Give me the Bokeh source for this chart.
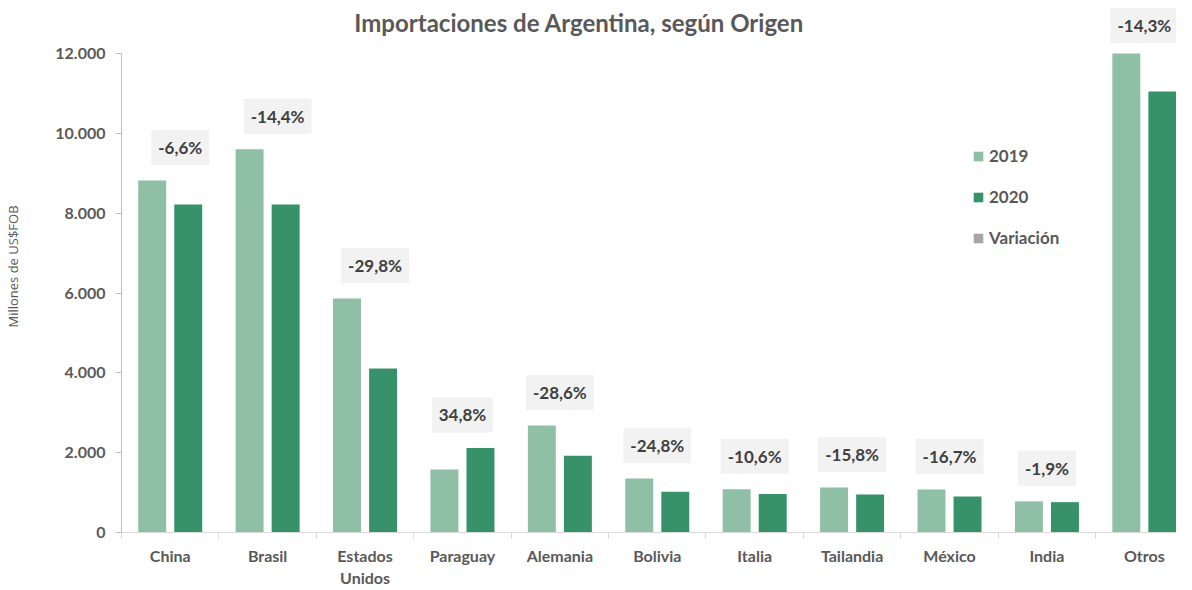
import numpy as np
from bokeh.plotting import figure
from bokeh.models import Range1d, FixedTicker, Label, Legend, LegendItem
from bokeh.embed import file_html
from bokeh.resources import INLINE

countries = ["China", "Brasil", "Estados\nUnidos", "Paraguay", "Alemania", "Bolivia",
             "Italia", "Tailandia", "México", "India", "Otros"]
imports_2019 = [8820, 9600, 5860, 1580, 2680, 1350, 1085, 1130, 1080, 780, 12900]
imports_2020 = [8220, 8220, 4110, 2120, 1920, 1020, 965, 950, 900, 760, 11050]
variation = ["-6,6%", "-14,4%", "-29,8%", "34,8%", "-28,6%", "-24,8%",
             "-10,6%", "-15,8%", "-16,7%", "-1,9%", "-14,3%"]
y_ticks = [0, 2000, 4000, 6000, 8000, 10000, 12000]

FONT = "Lato"
GREY = "#595959"
C19 = "#8fbfa4"
C20 = "#37926a"
YMAX = 12000          # axis maximum (bars above it are cut, as in the original)
TOP_PX = 53           # pixels above the 12000 line kept for title & labels
FRAME_PX = 532

n = len(countries)
centers = [i + 0.5 for i in range(n)]
x19 = [c - 0.185 for c in centers]
x20 = [c + 0.185 for c in centers]
top19 = np.minimum(imports_2019, YMAX)
top20 = np.minimum(imports_2020, YMAX)

y_end = YMAX * FRAME_PX / (FRAME_PX - TOP_PX)

p = figure(width=1176, height=590, x_range=Range1d(0, 10.83), y_range=Range1d(0, y_end),
           output_backend="svg", toolbar_location=None,
           min_border_left=121, min_border_right=0, min_border_top=0, min_border_bottom=58)

r19 = p.vbar(x=x19, top=top19, width=0.287, color=C19, line_color=None)
r20 = p.vbar(x=x20, top=top20, width=0.287, color=C20, line_color=None)
rvar = p.vbar(x=[-5], top=[0], width=0.1, color="#a6a6a6", line_color=None)

# variation labels
for i, (c, a, b, t) in enumerate(zip(centers, top19, top20, variation)):
    p.add_layout(Label(x=c, y=max(a, b), y_offset=33 if a < YMAX else 28,
                       x_offset=10 if i < 3 else 0, text=t, text_align="center",
                       text_baseline="middle", text_font=FONT, text_font_style="bold",
                       text_font_size="17px", text_color="#404040",
                       background_fill_color="#f2f2f2", padding=7))

# title (drawn inside the top margin of the frame)
p.add_layout(Label(x=(580 - 121) / 97.7, y=YMAX, y_offset=31,
                   text="Importaciones de Argentina, según Origen",
                   text_align="center", text_baseline="middle", text_font=FONT,
                   text_font_style="bold", text_font_size="24px", text_color=GREY))

# axes
p.xgrid.visible = False
p.ygrid.visible = False
p.outline_line_color = None

ya = p.yaxis[0]
ya.ticker = FixedTicker(ticks=y_ticks)
ya.bounds = (0, YMAX)
ya.major_label_overrides = {v: f"{v:,}".replace(",", ".") for v in y_ticks}
ya.axis_line_color = "#bfbfbf"
ya.major_tick_line_color = "#bfbfbf"
ya.major_tick_out = 6
ya.major_tick_in = 0
ya.minor_tick_line_color = None
ya.major_label_text_font = FONT
ya.major_label_text_font_style = "bold"
ya.major_label_text_font_size = "16px"
ya.major_label_text_color = GREY
ya.major_label_standoff = 10
ya.axis_label = "Millones de US$FOB"
ya.axis_label_text_font = "Open Sans"
ya.axis_label_text_font_style = "normal"
ya.axis_label_text_font_size = "13px"
ya.axis_label_text_color = GREY
ya.axis_label_standoff = 30

xa = p.xaxis[0]
xa.ticker = FixedTicker(ticks=centers, minor_ticks=list(range(n + 1)))
xa.major_label_overrides = {c: name for c, name in zip(centers, countries)}
xa.axis_line_color = "#d9d9d9"
xa.major_tick_line_color = None
xa.minor_tick_line_color = "#d9d9d9"
xa.minor_tick_out = 6
xa.minor_tick_in = 0
xa.major_label_text_font = FONT
xa.major_label_text_font_style = "bold"
xa.major_label_text_font_size = "16px"
xa.major_label_text_color = GREY
xa.major_label_standoff = 7

legend = Legend(items=[LegendItem(label="2019", renderers=[r19]),
                       LegendItem(label="2020", renderers=[r20]),
                       LegendItem(label="Variación", renderers=[rvar])],
                location=(851, 284), orientation="vertical",
                glyph_width=12, glyph_height=12, label_standoff=5, spacing=20,
                padding=0, margin=0, background_fill_alpha=0, border_line_color=None,
                label_text_font=FONT, label_text_font_style="bold",
                label_text_font_size="17px", label_text_color=GREY)
p.add_layout(legend)

open("out.html", "w").write(file_html(p, INLINE))
